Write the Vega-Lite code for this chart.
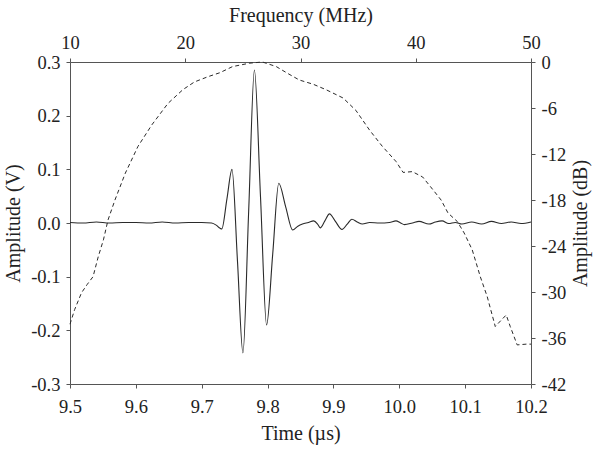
{
  "$schema": "https://vega.github.io/schema/vega-lite/v6.json",
  "width": 461,
  "height": 322,
  "autosize": "none",
  "padding": {"left": 70, "top": 62, "right": 70, "bottom": 68},
  "background": "white",
  "config": {
    "font": "Liberation Serif",
    "view": {"stroke": null},
    "axis": {
      "grid": false,
      "domainColor": "#555",
      "tickColor": "#555",
      "tickSize": 4,
      "labelFont": "Liberation Serif",
      "labelFontSize": 18.5,
      "labelColor": "#222",
      "titleFont": "Liberation Serif",
      "titleFontSize": 20,
      "titleFontWeight": "normal",
      "titleColor": "#222",
      "labelPadding": 6,
      "labelFlush": false,
      "labelOverlap": false
    }
  },
  "datasets": {
    "signal": [
      {"t": 9.500, "v": 0.001}, {"t": 9.520, "v": 0.000}, {"t": 9.540, "v": 0.002},
      {"t": 9.560, "v": 0.000}, {"t": 9.580, "v": 0.001}, {"t": 9.600, "v": 0.001},
      {"t": 9.620, "v": 0.000}, {"t": 9.640, "v": 0.002}, {"t": 9.660, "v": 0.000},
      {"t": 9.680, "v": 0.001}, {"t": 9.700, "v": 0.001}, {"t": 9.715, "v": 0.000},
      {"t": 9.722, "v": -0.004}, {"t": 9.728, "v": -0.010}, {"t": 9.7305, "v": -0.011},
      {"t": 9.7383, "v": 0.045}, {"t": 9.746, "v": 0.100}, {"t": 9.7543, "v": -0.071},
      {"t": 9.7626, "v": -0.242}, {"t": 9.7713, "v": 0.022}, {"t": 9.780, "v": 0.285},
      {"t": 9.7893, "v": 0.048}, {"t": 9.7985, "v": -0.190}, {"t": 9.8078, "v": -0.058},
      {"t": 9.817, "v": 0.074}, {"t": 9.8275, "v": 0.030}, {"t": 9.838, "v": -0.013},
      {"t": 9.846, "v": -0.006}, {"t": 9.853, "v": -0.002}, {"t": 9.862, "v": 0.001},
      {"t": 9.870, "v": 0.004}, {"t": 9.876, "v": -0.002}, {"t": 9.880, "v": -0.009},
      {"t": 9.887, "v": 0.004}, {"t": 9.894, "v": 0.017}, {"t": 9.903, "v": 0.003},
      {"t": 9.913, "v": -0.012}, {"t": 9.921, "v": -0.002}, {"t": 9.928, "v": 0.007},
      {"t": 9.936, "v": 0.002}, {"t": 9.944, "v": -0.002}, {"t": 9.955, "v": 0.001},
      {"t": 9.970, "v": 0.000}, {"t": 9.985, "v": 0.001}, {"t": 9.995, "v": 0.004},
      {"t": 10.002, "v": 0.000}, {"t": 10.008, "v": -0.003}, {"t": 10.020, "v": 0.000},
      {"t": 10.030, "v": 0.003}, {"t": 10.045, "v": -0.002}, {"t": 10.055, "v": 0.002},
      {"t": 10.065, "v": 0.004}, {"t": 10.075, "v": -0.001}, {"t": 10.085, "v": 0.001},
      {"t": 10.095, "v": -0.002}, {"t": 10.110, "v": 0.002}, {"t": 10.125, "v": -0.002},
      {"t": 10.140, "v": 0.003}, {"t": 10.155, "v": -0.001}, {"t": 10.170, "v": 0.002},
      {"t": 10.185, "v": -0.001}, {"t": 10.200, "v": 0.002}
    ],
    "spectrum": [
      {"f": 10.0, "db": -34.2}, {"f": 10.4, "db": -32.3}, {"f": 11.0, "db": -30.1},
      {"f": 11.5, "db": -29.0}, {"f": 12.0, "db": -28.0}, {"f": 12.45, "db": -25.4},
      {"f": 12.9, "db": -23.2}, {"f": 13.3, "db": -20.6}, {"f": 13.9, "db": -18.0},
      {"f": 14.8, "db": -14.5}, {"f": 15.9, "db": -11.0}, {"f": 17.1, "db": -8.2},
      {"f": 18.5, "db": -5.4}, {"f": 19.8, "db": -3.6}, {"f": 20.8, "db": -2.6},
      {"f": 22.0, "db": -1.9}, {"f": 23.0, "db": -1.4}, {"f": 24.1, "db": -0.6},
      {"f": 25.6, "db": -0.15}, {"f": 26.7, "db": 0.0}, {"f": 27.9, "db": -0.6},
      {"f": 28.9, "db": -1.5}, {"f": 29.9, "db": -2.35}, {"f": 31.1, "db": -2.9},
      {"f": 32.2, "db": -3.6}, {"f": 33.7, "db": -4.7}, {"f": 34.8, "db": -6.3},
      {"f": 36.0, "db": -8.9}, {"f": 37.1, "db": -11.0}, {"f": 38.3, "db": -13.0},
      {"f": 38.9, "db": -14.4}, {"f": 39.7, "db": -14.3}, {"f": 40.6, "db": -15.0},
      {"f": 41.3, "db": -16.3}, {"f": 42.2, "db": -18.0}, {"f": 42.8, "db": -19.7},
      {"f": 43.6, "db": -20.8}, {"f": 44.2, "db": -22.3}, {"f": 44.9, "db": -24.5},
      {"f": 45.6, "db": -28.0}, {"f": 46.2, "db": -30.6}, {"f": 46.9, "db": -34.5},
      {"f": 47.4, "db": -33.7}, {"f": 47.85, "db": -33.0}, {"f": 48.2, "db": -34.5},
      {"f": 48.8, "db": -36.9}, {"f": 49.6, "db": -36.8}, {"f": 50.0, "db": -36.8}
    ]
  },
  "layer": [
    {
      "data": {"name": "signal"},
      "mark": {"type": "line", "color": "#2a2a2a", "strokeWidth": 1.1, "interpolate": "monotone"},
      "encoding": {
        "x": {
          "field": "t", "type": "quantitative",
          "scale": {"domain": [9.5, 10.2], "nice": false, "zero": false},
          "axis": {
            "orient": "bottom", "title": "Time (µs)",
            "values": [9.5, 9.6, 9.7, 9.8, 9.9, 10.0, 10.1, 10.2],
            "format": ".1f", "labelPadding": 9, "titlePadding": 8
          }
        },
        "y": {
          "field": "v", "type": "quantitative",
          "scale": {"domain": [-0.3, 0.3], "nice": false},
          "axis": {
            "orient": "left", "title": "Amplitude (V)",
            "values": [-0.3, -0.2, -0.1, 0.0, 0.1, 0.2, 0.3],
            "labelExpr": "replace(format(datum.value, '.1f'), '\u2212', '-')",
            "titlePadding": 7
          }
        }
      }
    },
    {
      "data": {"name": "spectrum"},
      "mark": {"type": "line", "color": "#2a2a2a", "strokeWidth": 1, "strokeDash": [4, 3]},
      "encoding": {
        "x": {
          "field": "f", "type": "quantitative",
          "scale": {"domain": [10, 50], "nice": false, "zero": false},
          "axis": {
            "orient": "top", "title": "Frequency (MHz)",
            "values": [10, 20, 30, 40, 50],
            "titlePadding": 8
          }
        },
        "y": {
          "field": "db", "type": "quantitative",
          "scale": {"domain": [-42, 0], "nice": false},
          "axis": {
            "orient": "right", "title": "Amplitude (dB)",
            "values": [-42, -36, -30, -24, -18, -12, -6, 0],
            "labelExpr": "replace(format(datum.value, 'd'), '\u2212', '-')",
            "titleAngle": 270,
            "titleBaseline": "top",
            "titlePadding": 5
          }
        }
      }
    }
  ],
  "resolve": {"scale": {"x": "independent", "y": "independent"}}
}
